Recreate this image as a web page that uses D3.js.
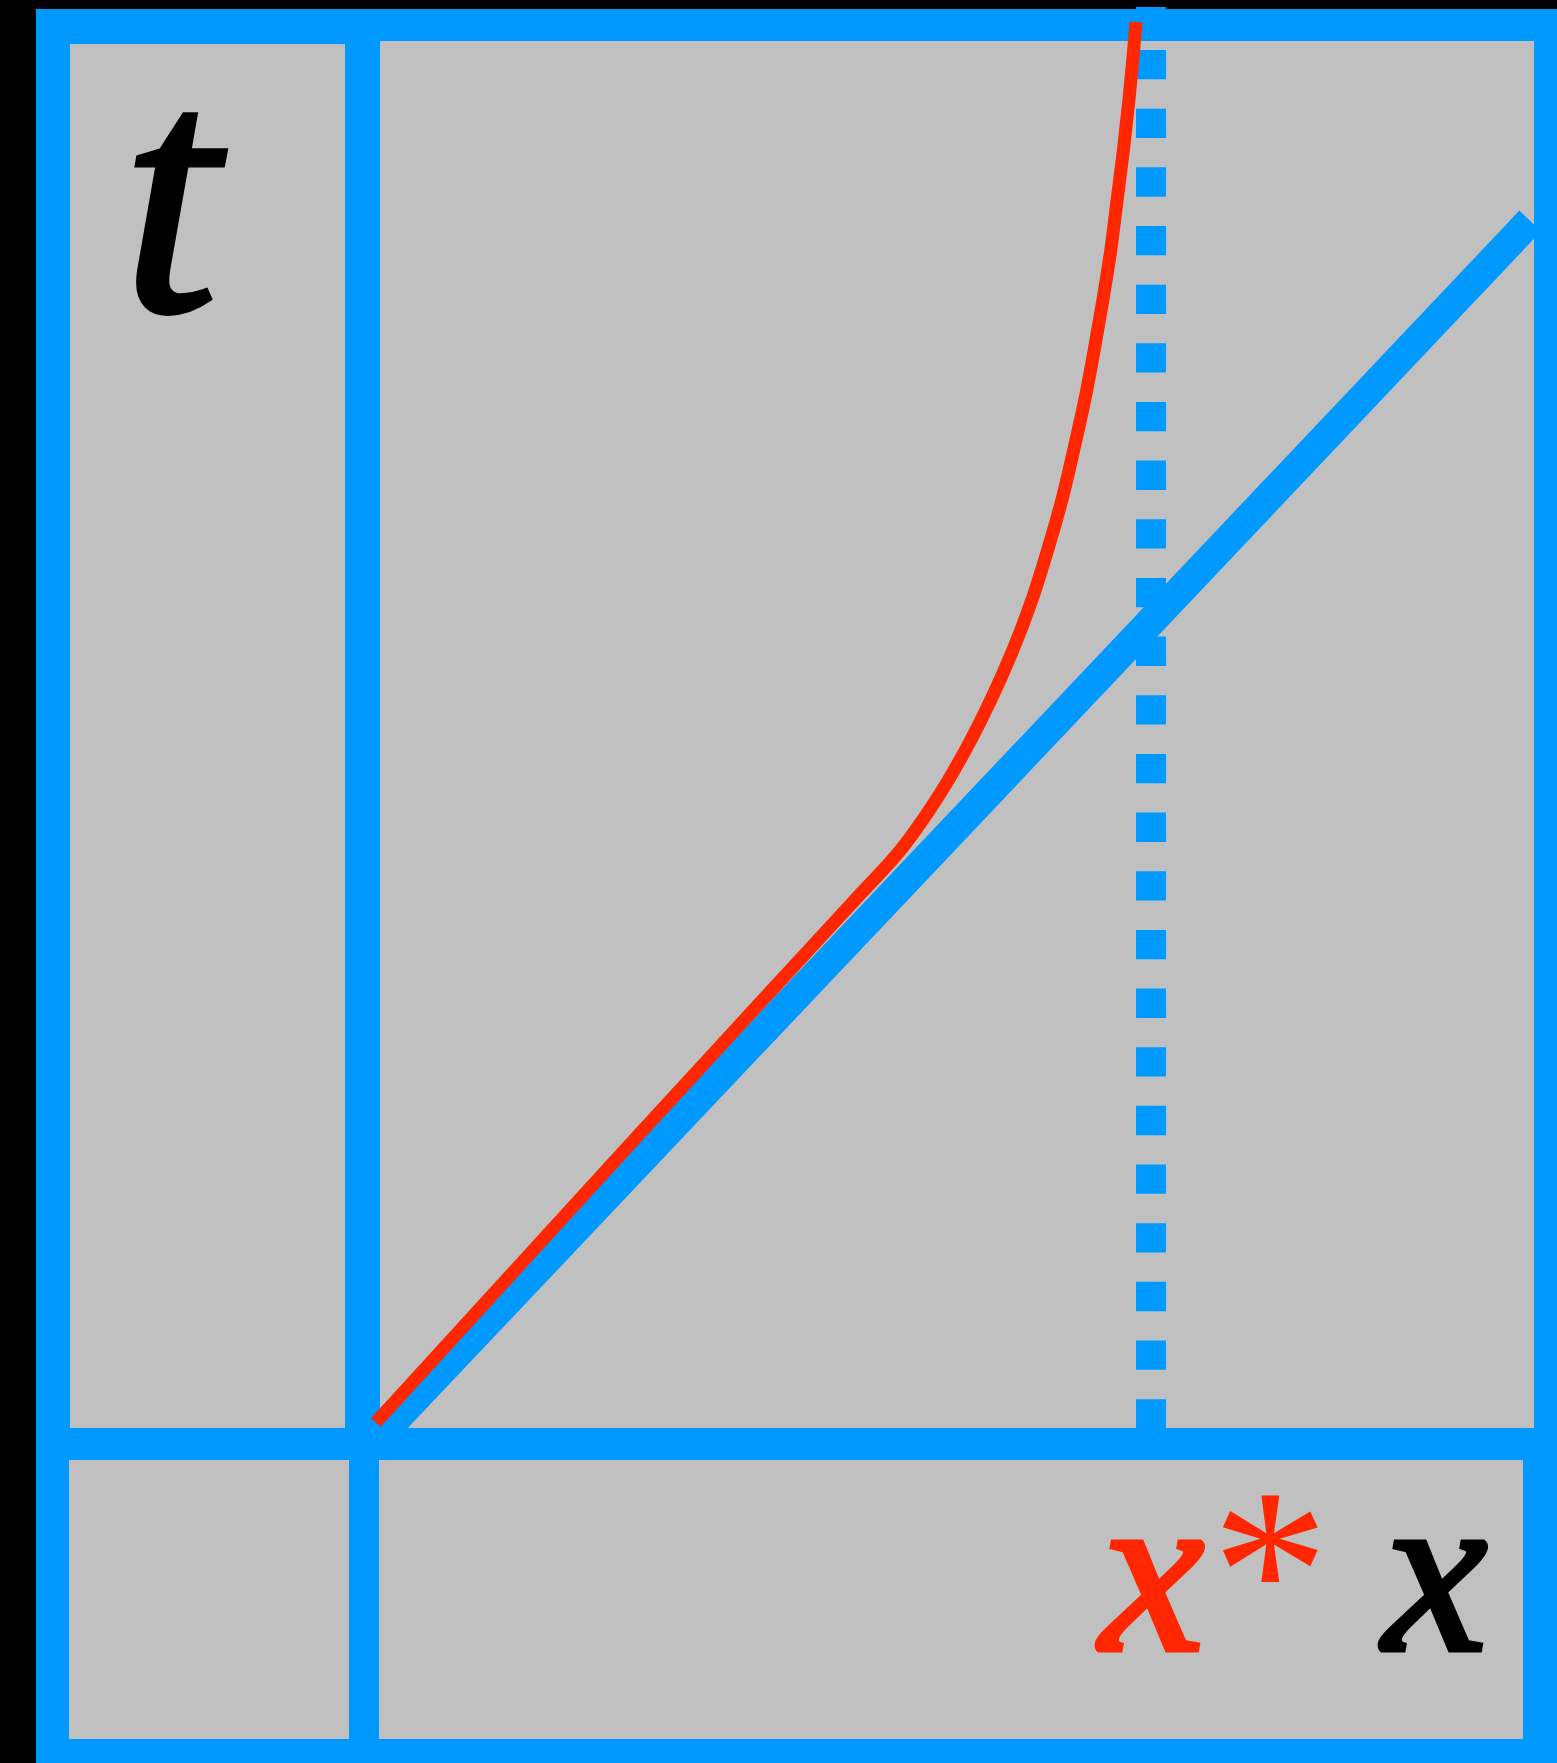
<!DOCTYPE html>
<html>
<head>
<meta charset="utf-8">
<script src="https://cdn.jsdelivr.net/npm/d3@7"></script>
<style>
  html, body { margin: 0; padding: 0; background: #000; }
  svg { display: block; }
</style>
</head>
<body>
<div id="chart"></div>
<script>
// red trajectory (x, t), from the top end down to the origin
const curveX = [9.81, 9.78, 9.72, 9.65, 9.57, 9.49, 9.39, 9.28, 9.16, 9.02, 8.87, 8.69, 8.49, 8.25, 7.97, 7.65, 7.27, 6.82, 6.24, 5.16, 3.49, 1.83, 0.17];
const curveT = [17.08, 16.74, 16.14, 15.54, 14.94, 14.34, 13.74, 13.14, 12.54, 11.94, 11.34, 10.74, 10.14, 9.54, 8.94, 8.34, 7.73, 7.13, 6.53, 5.42, 3.70, 1.98, 0.26];

// blue straight line
const lineX = [0.12, 14.81];
const lineT = [0, 14.69];

// asymptote x* and the top of the dotted line
const xStar = 10;
const dotTop = 17.26;

const labels = ["t", "x", "*", "x"];

const W = 1557, H = 1763;
const blue = "#0099ff", gray = "#c0c0c0", red = "#ff2600";

const x = d3.scaleLinear().domain([0, 10]).range([362.5, 1151]);
const y = d3.scaleLinear().domain([0, 10]).range([1444, 611.4]);

const svg = d3.select("#chart").append("svg")
    .attr("width", W)
    .attr("height", H);

svg.append("rect")
    .attr("width", W).attr("height", H)
    .attr("fill", "#000");

// outer blue frame
svg.append("rect")
    .attr("x", 36).attr("y", 9)
    .attr("width", W - 36).attr("height", H - 9)
    .attr("fill", blue);

// gray panels [x0, y0, x1, y1]
const panels = [
    [70, 44, 345, 1428],
    [380, 41, 1534, 1428],
    [69, 1460, 349, 1739],
    [379, 1460, 1523, 1739]
];
svg.selectAll(".panel")
    .data(panels)
    .enter().append("rect")
    .attr("class", "panel")
    .attr("x", d => d[0])
    .attr("y", d => d[1])
    .attr("width", d => d[2] - d[0])
    .attr("height", d => d[3] - d[1])
    .attr("fill", gray);

// dotted asymptote
svg.append("line")
    .attr("x1", x(xStar)).attr("x2", x(xStar))
    .attr("y1", y(dotTop)).attr("y2", y(0))
    .attr("stroke", blue)
    .attr("stroke-width", 30)
    .attr("stroke-dasharray", "29.33 29.33")
    .attr("stroke-dashoffset", 15.6);

// straight line
svg.append("path")
    .datum(d3.zip(lineX, lineT))
    .attr("d", d3.line().x(d => x(d[0])).y(d => y(d[1])))
    .attr("fill", "none")
    .attr("stroke", blue)
    .attr("stroke-width", 30);

// red curve
const curve = d3.line()
    .x(d => x(d[0]))
    .y(d => y(d[1]))
    .curve(d3.curveMonotoneY);

svg.append("path")
    .datum(d3.zip(curveX, curveT))
    .attr("d", curve)
    .attr("fill", "none")
    .attr("stroke", red)
    .attr("stroke-width", 13);

// labels
const font = "'Liberation Serif', 'Times New Roman', serif";

svg.append("text")
    .attr("x", 122)
    .attr("y", 310)
    .attr("font-family", font)
    .attr("font-style", "italic")
    .attr("font-size", 347)
    .attr("stroke", "#000")
    .attr("stroke-width", 5)
    .attr("fill", "#000")
    .text(labels[0]);

const xs = svg.append("text")
    .attr("x", 1100)
    .attr("y", 1650)
    .attr("font-family", font)
    .attr("font-style", "italic")
    .attr("font-size", 235)
    .attr("fill", red);
xs.append("tspan")
    .attr("stroke", red)
    .attr("stroke-width", 5)
    .text(labels[1]);
xs.append("tspan").attr("dx", -4).text(labels[2]);

svg.append("text")
    .attr("x", 1383)
    .attr("y", 1650)
    .attr("font-family", font)
    .attr("font-style", "italic")
    .attr("font-size", 235)
    .attr("stroke", "#000")
    .attr("stroke-width", 5)
    .attr("fill", "#000")
    .text(labels[3]);
</script>
</body>
</html>
